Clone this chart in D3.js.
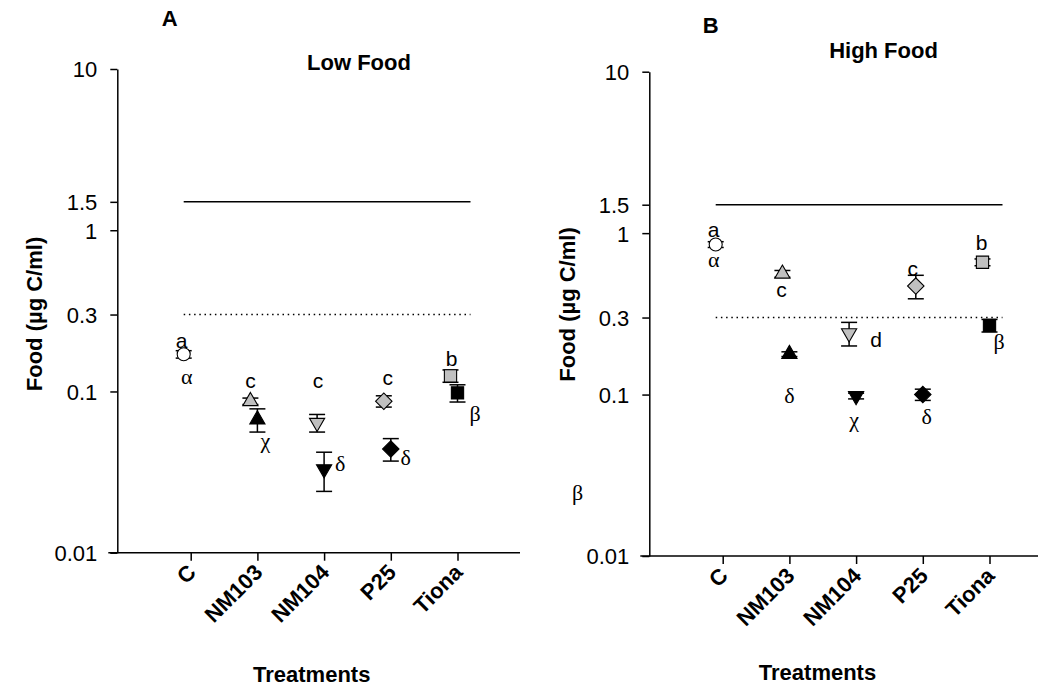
<!DOCTYPE html>
<html>
<head>
<meta charset="utf-8">
<script src="https://cdn.jsdelivr.net/npm/d3@7"></script>
<style>
  body { margin: 0; background: #fff; }
  svg { display: block; }
</style>
</head>
<body>
<svg id="chart" width="1038" height="688"></svg>
<script>
// ---- data ----
const treatments = ["C", "NM103", "NM104", "P25", "Tiona"];
const yTickValues = [0.01, 0.1, 0.3, 1, 1.5, 10];
const yTickLabels = ["0.01", "0.1", "0.3", "1", "1.5", "10"];
const upperRefLevel = 1.5;
const lowerRefLevel = 0.3;

// Low food: group tested with latin letters, group tested with greek letters
const lowLatinMean = [0.17, 0.087, 0.064, 0.087, 0.125];
const lowLatinSE   = [0.009, 0.004, 0.008, 0.007, 0.011];
const lowGreekMean = [null, 0.067, 0.033, 0.044, 0.098];
const lowGreekSE   = [null, 0.011, 0.009, 0.007, 0.012];
const lowLatinLetters = ["a", "c", "c", "c", "b"];
const lowGreekLetters = ["α", "χ", "δ", "δ", "β"];

// High food
const highLatinMean = [0.85, 0.56, 0.24, 0.47, 0.66];
const highLatinSE   = [0.035, 0.027, 0.04, 0.078, 0.032];
const highGreekMean = [null, 0.178, 0.098, 0.1, 0.268];
const highGreekSE   = [null, 0.006, 0.004, 0.008, 0.024];
const highLatinLetters = ["a", "c", "d", "c", "b"];
const highGreekLetters = ["α", "δ", "χ", "δ", "β"];

// ---- layout ----
const svg = d3.select("#chart");
const SANS = "'Liberation Sans', Arial, Helvetica, sans-serif";
const SERIF = "'Liberation Serif', 'DejaVu Serif', 'Times New Roman', Times, serif";
const GRAY = "#c0c0c0";

const symbolFor = {
  C:     { type: d3.symbolCircle,   size: 133, rotate: 0 },
  NM103: { type: d3.symbolTriangle, size: 100, rotate: 0 },
  NM104: { type: d3.symbolTriangle, size: 100, rotate: 180 },
  P25:   { type: d3.symbolSquare,   size: 135, rotate: 45 },
  Tiona: { type: d3.symbolSquare,   size: 150, rotate: 0 }
};

const panels = [
  {
    left: 117.3, right: 520, top: 69, bottom: 552.7,
    latinMean: lowLatinMean, latinSE: lowLatinSE,
    greekMean: lowGreekMean, greekSE: lowGreekSE,
    latinLetters: lowLatinLetters, greekLetters: lowGreekLetters,
    title: "Low Food", titleX: 359, titleY: 69.5,
    tag: "A", tagX: 161.7, tagY: 26,
    xTitleX: 311.7, xTitleY: 681.5,
    yTitleX: 42, yTitleY: 314,
    latinNudge: [[-2, -6], [0, -13], [1, -35], [4, -16], [1, -10]],
    greekNudge: [[3, 30], [8, 28], [16, 2], [15, 16], [17.5, 28]]
  },
  {
    left: 649.3, right: 1040, top: 71.7, bottom: 556,
    latinMean: highLatinMean, latinSE: highLatinSE,
    greekMean: highGreekMean, greekSE: highGreekSE,
    latinLetters: highLatinLetters, greekLetters: highGreekLetters,
    title: "High Food", titleX: 883.5, titleY: 57.5,
    tag: "B", tagX: 702.7, tagY: 33.3,
    xTitleX: 817.5, xTitleY: 680,
    yTitleX: 575, yTitleY: 304.5,
    latinNudge: [[-2, -7.5], [-1, 23], [27, 14], [-3, -10], [-1, -12.5]],
    greekNudge: [[-2, 22.5], [0, 49], [-2, 31], [4, 29], [9.5, 23.5]]
  }
];

const latinShift = -7; // lettered group sits just left of the category

function drawPanel(p) {
  const g = svg.append("g");
  const y = d3.scaleLog().domain([0.01, 10]).range([p.bottom, p.top]);
  const x = d3.scalePoint().domain(treatments).range([p.left + 73.4, p.left + 340.2]);

  // y axis
  const yAxis = d3.axisLeft(y)
    .tickValues(yTickValues)
    .tickFormat((d, i) => yTickLabels[i])
    .tickSize(7).tickSizeOuter(0).tickPadding(13);
  const ya = g.append("g").attr("transform", `translate(${p.left},0)`).call(yAxis);
  ya.attr("font-family", SANS).attr("font-size", 22);
  ya.selectAll("path, line").attr("stroke", "#000").attr("stroke-width", 1.5);
  ya.selectAll("text").attr("fill", "#000").attr("dy", "0.36em");

  // x axis
  g.append("line")
    .attr("x1", p.left - 9).attr("x2", p.right)
    .attr("y1", p.bottom).attr("y2", p.bottom)
    .attr("stroke", "#000").attr("stroke-width", 1.5);
  const xAxis = d3.axisBottom(x).tickSize(8).tickSizeOuter(0).tickPadding(0);
  const xa = g.append("g").attr("transform", `translate(0,${p.bottom})`).call(xAxis);
  xa.select(".domain").remove();
  xa.attr("font-family", SANS).attr("font-size", 22).attr("font-weight", "bold");
  xa.selectAll("line").attr("stroke", "#000").attr("stroke-width", 1.5);
  xa.selectAll("text")
    .attr("fill", "#000")
    .attr("y", null).attr("dy", null)
    .attr("text-anchor", "end")
    .attr("transform", "translate(6,21) rotate(-45)");

  // reference lines
  const refX1 = x("C") + latinShift;
  const refX2 = x("Tiona") + 13;
  g.append("line")
    .attr("x1", refX1).attr("x2", refX2)
    .attr("y1", y(upperRefLevel)).attr("y2", y(upperRefLevel))
    .attr("stroke", "#000").attr("stroke-width", 1.5);
  g.append("line")
    .attr("x1", refX1).attr("x2", refX2)
    .attr("y1", y(lowerRefLevel)).attr("y2", y(lowerRefLevel))
    .attr("stroke", "#000").attr("stroke-width", 1.4)
    .attr("stroke-dasharray", "1.5,3.7");

  // points
  const points = [];
  treatments.forEach((t, i) => {
    if (p.latinMean[i] != null) {
      points.push({ t, i, group: "latin", mean: p.latinMean[i], se: p.latinSE[i],
        cx: x(t) + latinShift, fill: t === "C" ? "#fff" : GRAY });
    }
    if (p.greekMean[i] != null) {
      points.push({ t, i, group: "greek", mean: p.greekMean[i], se: p.greekSE[i],
        cx: x(t), fill: "#000" });
    }
  });

  const capHalf = 8;
  const eb = g.append("g").attr("stroke", "#000").attr("stroke-width", 1.5);
  points.forEach(d => {
    const yHi = y(d.mean + d.se), yLo = y(d.mean - d.se);
    eb.append("line").attr("x1", d.cx).attr("x2", d.cx).attr("y1", yHi).attr("y2", yLo);
    eb.append("line").attr("x1", d.cx - capHalf).attr("x2", d.cx + capHalf).attr("y1", yHi).attr("y2", yHi);
    eb.append("line").attr("x1", d.cx - capHalf).attr("x2", d.cx + capHalf).attr("y1", yLo).attr("y2", yLo);
  });

  g.append("g").selectAll("path")
    .data(points)
    .join("path")
    .attr("d", d => d3.symbol().type(symbolFor[d.t].type).size(symbolFor[d.t].size)())
    .attr("transform", d => `translate(${d.cx},${y(d.mean)}) rotate(${symbolFor[d.t].rotate})`)
    .attr("fill", d => d.fill)
    .attr("stroke", "#000")
    .attr("stroke-width", 1.1);

  // significance letters
  treatments.forEach((t, i) => {
    const lx = x(t) + latinShift, ly = y(p.latinMean[i]);
    g.append("text")
      .attr("x", lx + p.latinNudge[i][0]).attr("y", ly + p.latinNudge[i][1])
      .attr("text-anchor", "middle")
      .attr("font-family", SANS).attr("font-size", 21)
      .text(p.latinLetters[i]);
    const hasGreek = p.greekMean[i] != null;
    const gx = hasGreek ? x(t) : lx;
    const gy = hasGreek ? y(p.greekMean[i]) : ly;
    g.append("text")
      .attr("x", gx + p.greekNudge[i][0]).attr("y", gy + p.greekNudge[i][1])
      .attr("text-anchor", "middle")
      .attr("font-family", SERIF).attr("font-size", 22)
      .text(p.greekLetters[i]);
  });

  // titles
  g.append("text").attr("x", p.titleX).attr("y", p.titleY)
    .attr("text-anchor", "middle").attr("font-family", SANS)
    .attr("font-size", 22).attr("font-weight", "bold").text(p.title);
  g.append("text").attr("x", p.tagX).attr("y", p.tagY)
    .attr("font-family", SANS).attr("font-size", 22).attr("font-weight", "bold").text(p.tag);
  g.append("text").attr("x", p.xTitleX).attr("y", p.xTitleY)
    .attr("text-anchor", "middle").attr("font-family", SANS)
    .attr("font-size", 22).attr("font-weight", "bold").text("Treatments");
  g.append("text")
    .attr("transform", `translate(${p.yTitleX},${p.yTitleY}) rotate(-90)`)
    .attr("text-anchor", "middle").attr("font-family", SANS)
    .attr("font-size", 22).attr("font-weight", "bold").text("Food (µg C/ml)");
}

panels.forEach(drawPanel);

// loose greek label left beside the high food axis
svg.append("text")
  .attr("x", 577.5).attr("y", 500)
  .attr("text-anchor", "middle")
  .attr("font-family", SERIF).attr("font-size", 22)
  .text("β");
</script>
</body>
</html>
